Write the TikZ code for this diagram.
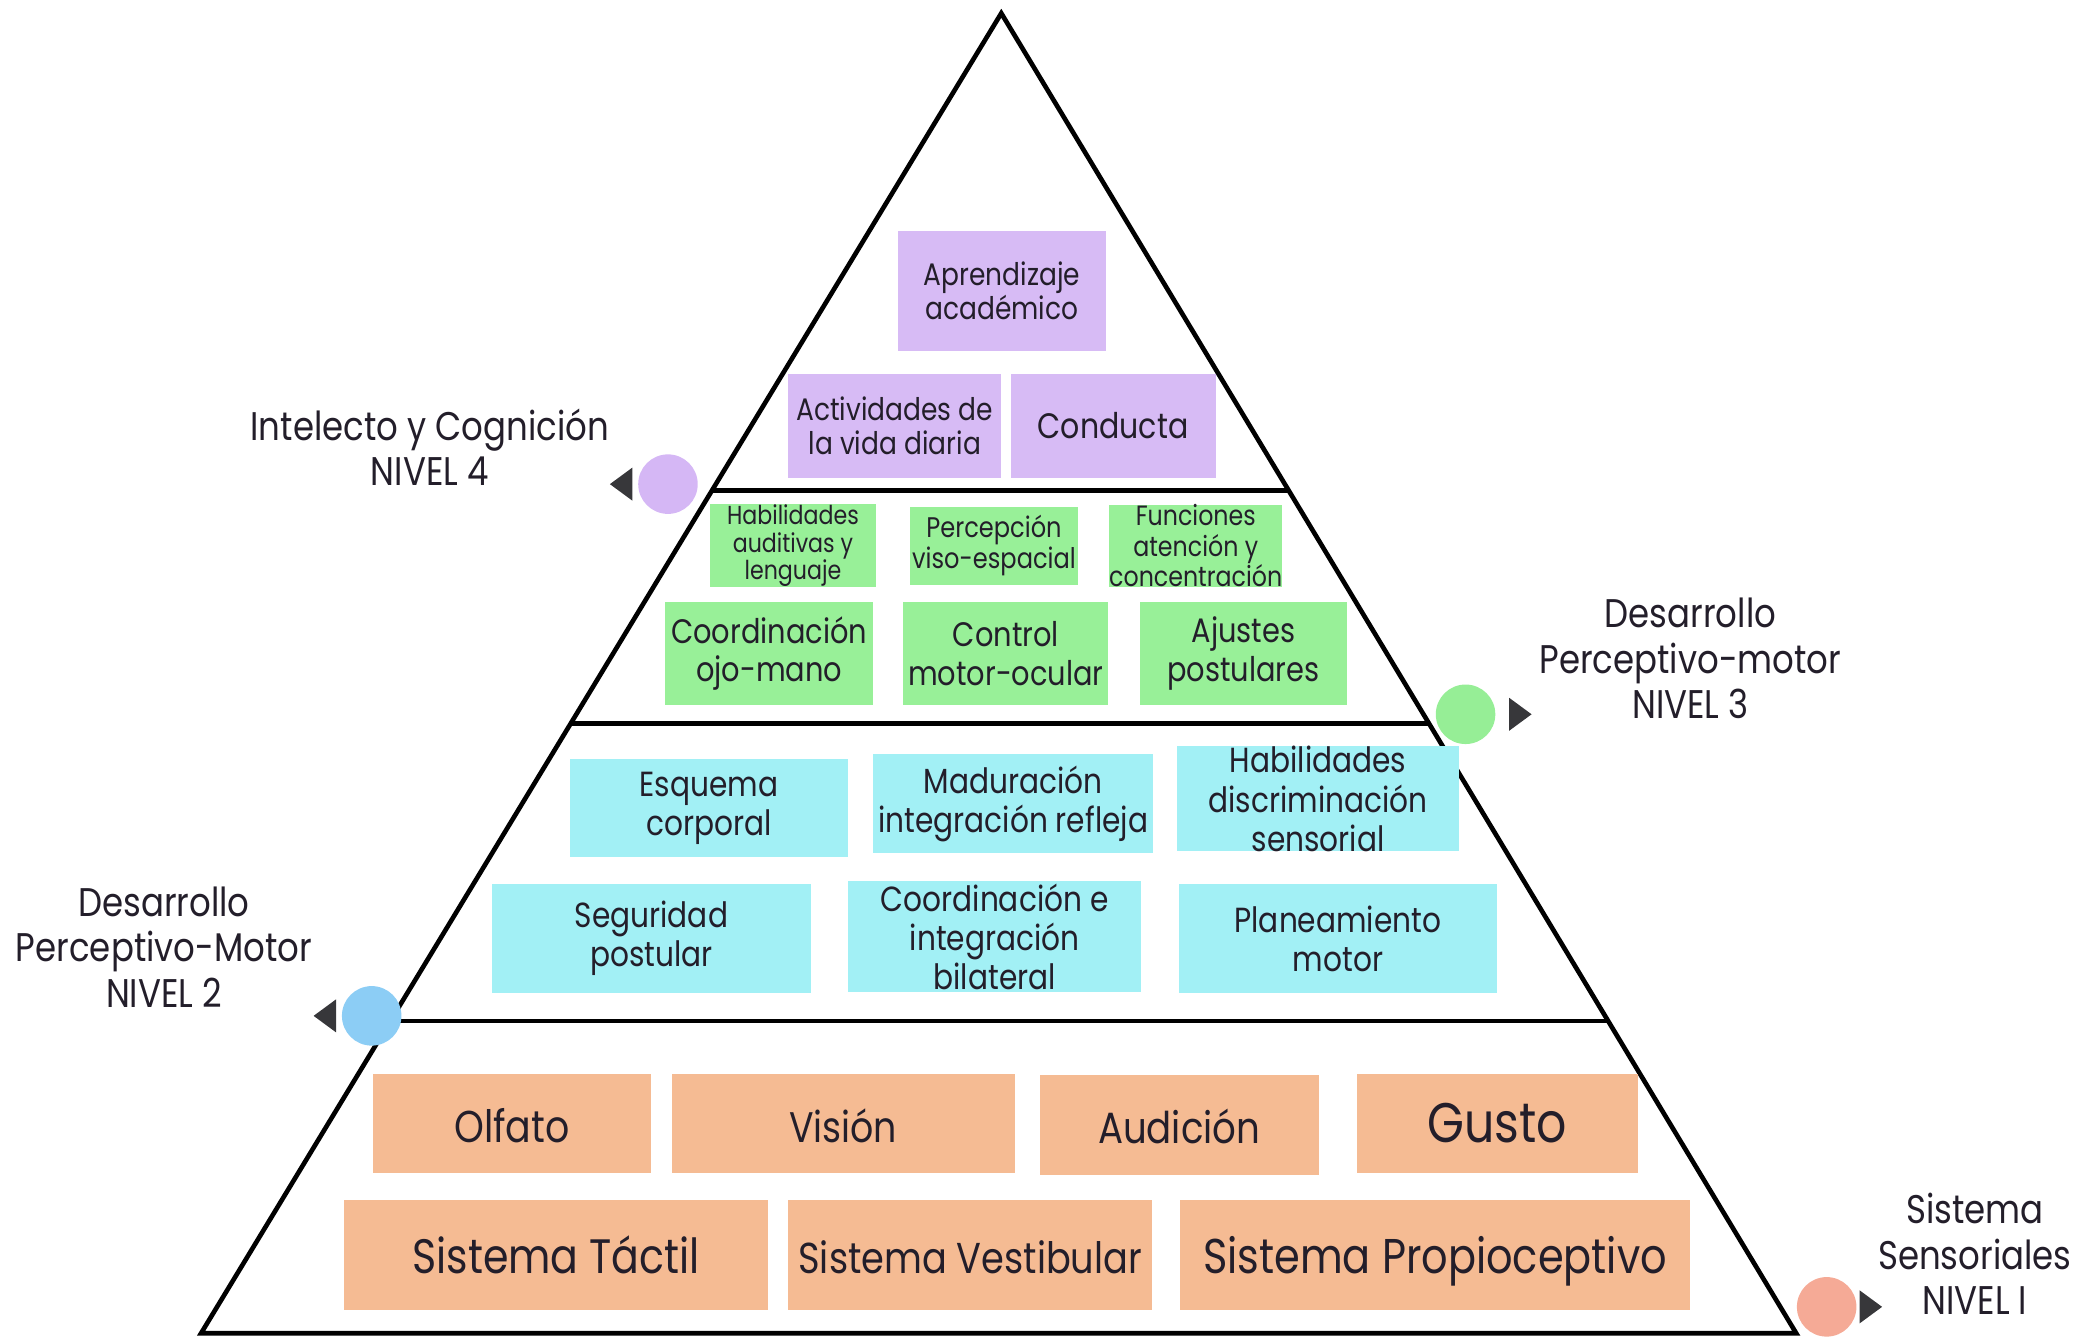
\documentclass[tikz,border=0pt]{standalone}
\usepackage{fontspec}
\setmainfont{Poppins}[FakeStretch=0.85]
\usetikzlibrary{calc,positioning,shapes.geometric}
\definecolor{ink}{RGB}{35,30,42}
\definecolor{purp}{RGB}{215,187,245}
\definecolor{grn}{RGB}{152,240,152}
\definecolor{cyn}{RGB}{162,240,245}
\definecolor{org}{RGB}{245,187,147}
\definecolor{dpurp}{RGB}{213,183,245}
\definecolor{dgrn}{RGB}{150,238,150}
\definecolor{dblue}{RGB}{140,205,245}
\definecolor{dsalm}{RGB}{245,170,150}
\definecolor{tipc}{RGB}{55,55,58}
\tikzset{
	edge/.style={line width=1pt, black},
	cell/.style={rectangle, inner sep=0pt, align=center, text=ink},
	sz/.style 2 args={minimum width=#1mm, minimum height=#2mm},
	pcell/.style={cell, fill=purp},
	gcell/.style={cell, fill=grn},
	ccell/.style={cell, fill=cyn},
	ocell/.style={cell, fill=org, text height=0.8em, text depth=0em},
	dot/.style={circle, inner sep=0pt, minimum size=4.5mm},
	tipl/.style={isosceles triangle, isosceles triangle stretches, fill=tipc, inner sep=0pt,
		minimum width=2.5mm, minimum height=1.7mm, shape border rotate=180},
	tipr/.style={tipl, shape border rotate=0},
	lvl/.style={align=center, text=ink, font=\fontsize{8.6}{9.8}\selectfont},
}

\begin{document}
\begin{tikzpicture}[x=0.1mm, y=-0.1mm]
	\useasboundingbox (0,0) rectangle (1568,1011);

	% pyramid
	\coordinate (top) at (757,10);
	\coordinate (bl) at (152,1008);
	\coordinate (br) at (1358,1008);
	\draw[edge] (bl) -- (top) -- (br) -- cycle;
	\foreach \t in {0.3617,0.538,0.7635}
		\draw[edge] ($(top)!\t!(bl)$) -- ($(top)!\t!(br)$);

	% nivel 4
	\node[pcell, sz={15.7}{9}, font=\fontsize{6.7}{7.4}\selectfont] (apr) at (757.5,220) {Aprendizaje\\académico};
	\node[pcell, sz={16.1}{7.8}, font=\fontsize{6.7}{7.4}\selectfont] (avd) at (676.5,322) {Actividades de\\la vida diaria};
	\node[pcell, sz={15.5}{7.8}, font=\fontsize{7.6}{8.4}\selectfont] (cond) at (841.5,322) {Conducta};

	% nivel 3
	\node[gcell, sz={12.5}{5.9}, font=\fontsize{5.6}{6}\selectfont] (hab) at (599.5,412.5) {Habilidades\\auditivas y\\lenguaje};
	\node[gcell, sz={12.7}{5.9}, font=\fontsize{6.1}{6.8}\selectfont] (perc) at (751.5,412.5) {Percepción\\viso-espacial};
	\node[gcell, sz={12.8}{5.9}, font=\fontsize{6}{6.5}\selectfont] (func) at (904,412.5) {Funciones\\atención y\\concentración};
	\node[gcell, sz={15.7}{7.8}, font=\fontsize{7.3}{8.3}\selectfont] (coord) at (581.5,494) {Coordinación\\ojo-mano};
	\node[gcell, sz={15.5}{7.8}, font=\fontsize{7.3}{8.3}\selectfont] (ctrl) at (760.5,494) {Control\\motor-ocular};
	\node[gcell, sz={15.6}{7.8}, font=\fontsize{7.3}{8.3}\selectfont] (ajus) at (940,494) {Ajustes\\postulares};

	% nivel 2
	\node[ccell, sz={21}{7.4}, font=\fontsize{7.5}{8.4}\selectfont] (esq) at (536,611) {Esquema\\corporal};
	\node[ccell, sz={21.2}{7.5}, font=\fontsize{7.5}{8.4}\selectfont] (mad) at (766,607.5) {Maduración\\integración refleja};
	\node[ccell, sz={21.3}{7.6}, font=\fontsize{7.5}{8.4}\selectfont] (hdis) at (996.5,604) {Habilidades\\discriminación\\sensorial};
	\node[ccell, sz={24.1}{8.3}, font=\fontsize{7.5}{8.4}\selectfont] (seg) at (492.5,709.5) {Seguridad\\postular};
	\node[ccell, sz={22.2}{8.4}, font=\fontsize{7.5}{8.4}\selectfont] (cib) at (752,708) {Coordinación e\\integración\\bilateral};
	\node[ccell, sz={24.1}{8.3}, font=\fontsize{7.5}{8.4}\selectfont] (plan) at (1011.5,709.5) {Planeamiento\\motor};

	% nivel 1
	\node[ocell, sz={21}{7.5}, font=\fontsize{9.6}{11}\selectfont] (olf) at (387,849.5) {Olfato};
	\node[ocell, sz={25.9}{7.5}, font=\fontsize{9.2}{11}\selectfont] (vis) at (637.5,849.5) {Visión};
	\node[ocell, sz={21.1}{7.5}, font=\fontsize{9.4}{11}\selectfont] (aud) at (891.5,850.5) {Audición};
	\node[ocell, sz={21.2}{7.5}, font=\fontsize{12}{14}\selectfont] (gus) at (1132,849.5) {Gusto};
	\node[ocell, sz={32.1}{8.3}, font=\fontsize{10.4}{12}\selectfont] (tac) at (420.5,948.5) {Sistema Táctil};
	\node[ocell, sz={27.5}{8.3}, font=\fontsize{9.3}{11}\selectfont] (vest) at (733.5,948.5) {Sistema Vestibular};
	\node[ocell, sz={38.6}{8.3}, font=\fontsize{10.5}{12}\selectfont] (prop) at (1085,948.5) {Sistema Propioceptivo};

	% marcas de nivel
	\node[dot, fill=dpurp] (m4) at (505,366) {};
	\node[tipl, left=0.3mm of m4] (t4) {};
	\node[lvl] (n4) at (325,338) {Intelecto y Cognición\\NIVEL 4};

	\node[dot, fill=dgrn] (m3) at (1108,540) {};
	\node[tipr, right=0.9mm of m3] (t3) {};
	\node[lvl] (n3) at (1278,498) {Desarrollo\\Perceptivo-motor\\NIVEL 3};

	\node[dot, fill=dblue] (m2) at (281,768) {};
	\node[tipl, left=0.3mm of m2] (t2) {};
	\node[lvl] (n2) at (124,716) {Desarrollo\\Perceptivo-Motor\\NIVEL 2};

	\node[dot, fill=dsalm] (m1) at (1381,988) {};
	\node[tipr, right=0.1mm of m1] (t1) {};
	\node[lvl] (n1) at (1493,948) {Sistema\\Sensoriales\\NIVEL I};
\end{tikzpicture}
\end{document}
